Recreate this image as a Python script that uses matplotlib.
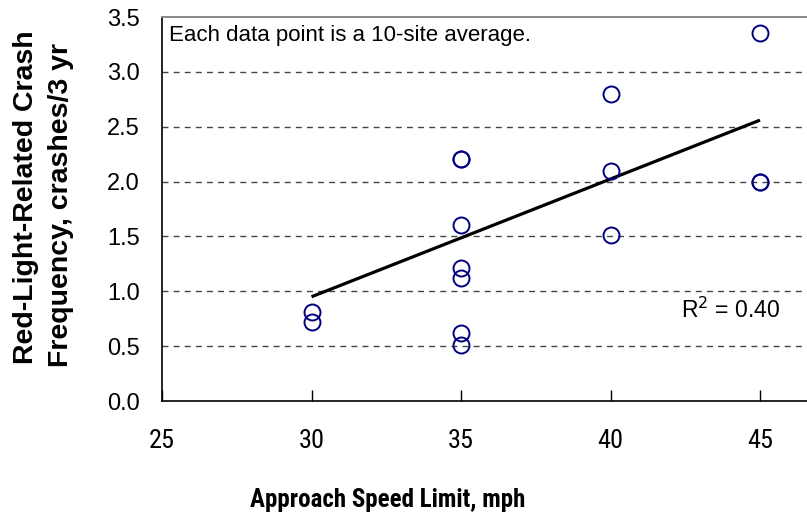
import matplotlib
matplotlib.use("Agg")
import matplotlib.pyplot as plt

plt.rcParams['font.family'] = ['Liberation Sans', 'DejaVu Sans']
NARROW = ['Roboto Condensed', 'Liberation Sans', 'DejaVu Sans']

# Data
speed_limit = [30, 30, 35, 35, 35, 35, 35, 35, 35, 40, 40, 40, 45, 45, 45]
crash_freq = [0.81, 0.72, 2.21, 2.21, 1.60, 1.21, 1.12, 0.62, 0.51, 2.80, 2.10, 1.51, 3.35, 2.00, 2.00]
trend_x = [30, 45]
trend_y = [0.95, 2.56]
x_ticks = [25, 30, 35, 40, 45]
y_ticks = [0.0, 0.5, 1.0, 1.5, 2.0, 2.5, 3.0, 3.5]
note_text = "Each data point is a 10-site average."
r2_text = r"R$^2$ = 0.40"

W, H = 807, 514
fig = plt.figure(figsize=(W / 100, H / 100), dpi=100)
left, bottom, top = 162, 401, 17
px_per_x = 29.9
ax = fig.add_axes([left / W, (H - bottom) / H, 25 * px_per_x / W, (bottom - top) / H])
ax.set_xlim(25, 50)
ax.set_ylim(0, 3.5)

for y in y_ticks[1:-1]:
    ax.axhline(y, color='#444444', lw=1.0, ls=(0, (4.3, 3.7)), zorder=1)

ax.plot(trend_x, trend_y, color='black', lw=2.3, solid_capstyle='butt', zorder=2)
ax.plot(speed_limit, crash_freq, ls='none', marker='o', ms=11.5, mfc='none',
        mec='#00007f', mew=1.4, zorder=3)

ax.set_xticks(x_ticks)
ax.set_xticklabels([str(v) for v in x_ticks], family=NARROW, fontsize=19)
ax.set_yticks(y_ticks)
ax.set_yticklabels([f"{v:.1f}" for v in y_ticks], fontsize=17)
ax.tick_params(axis='x', direction='in', length=8, width=1, pad=20)
ax.tick_params(axis='y', length=0, pad=16)

for s in ['left', 'bottom']:
    ax.spines[s].set_color('black')
    ax.spines[s].set_linewidth(1.2)
ax.spines['top'].set_color('#888888')
ax.spines['top'].set_linewidth(1.4)
ax.spines['right'].set_visible(False)

fig.text(169 / W, 1 - 41 / H, note_text, fontsize=16, va='baseline', ha='left')
fig.text(731 / W, 1 - 318 / H, r2_text, fontsize=16.5, va='baseline', ha='center')

fig.text(388 / W, 1 - 507 / H, "Approach Speed Limit, mph", family=NARROW, fontsize=18,
         fontweight='bold', ha='center', va='baseline')
fig.text(33 / W, 1 - 197 / H, "Red-Light-Related Crash", fontsize=20.5,
         fontweight='bold', ha='center', va='baseline', rotation=90, rotation_mode='anchor')
fig.text(68 / W, 1 - 205 / H, "Frequency, crashes/3 yr", fontsize=20.5,
         fontweight='bold', ha='center', va='baseline', rotation=90, rotation_mode='anchor')

fig.savefig("out.png", dpi=100)
